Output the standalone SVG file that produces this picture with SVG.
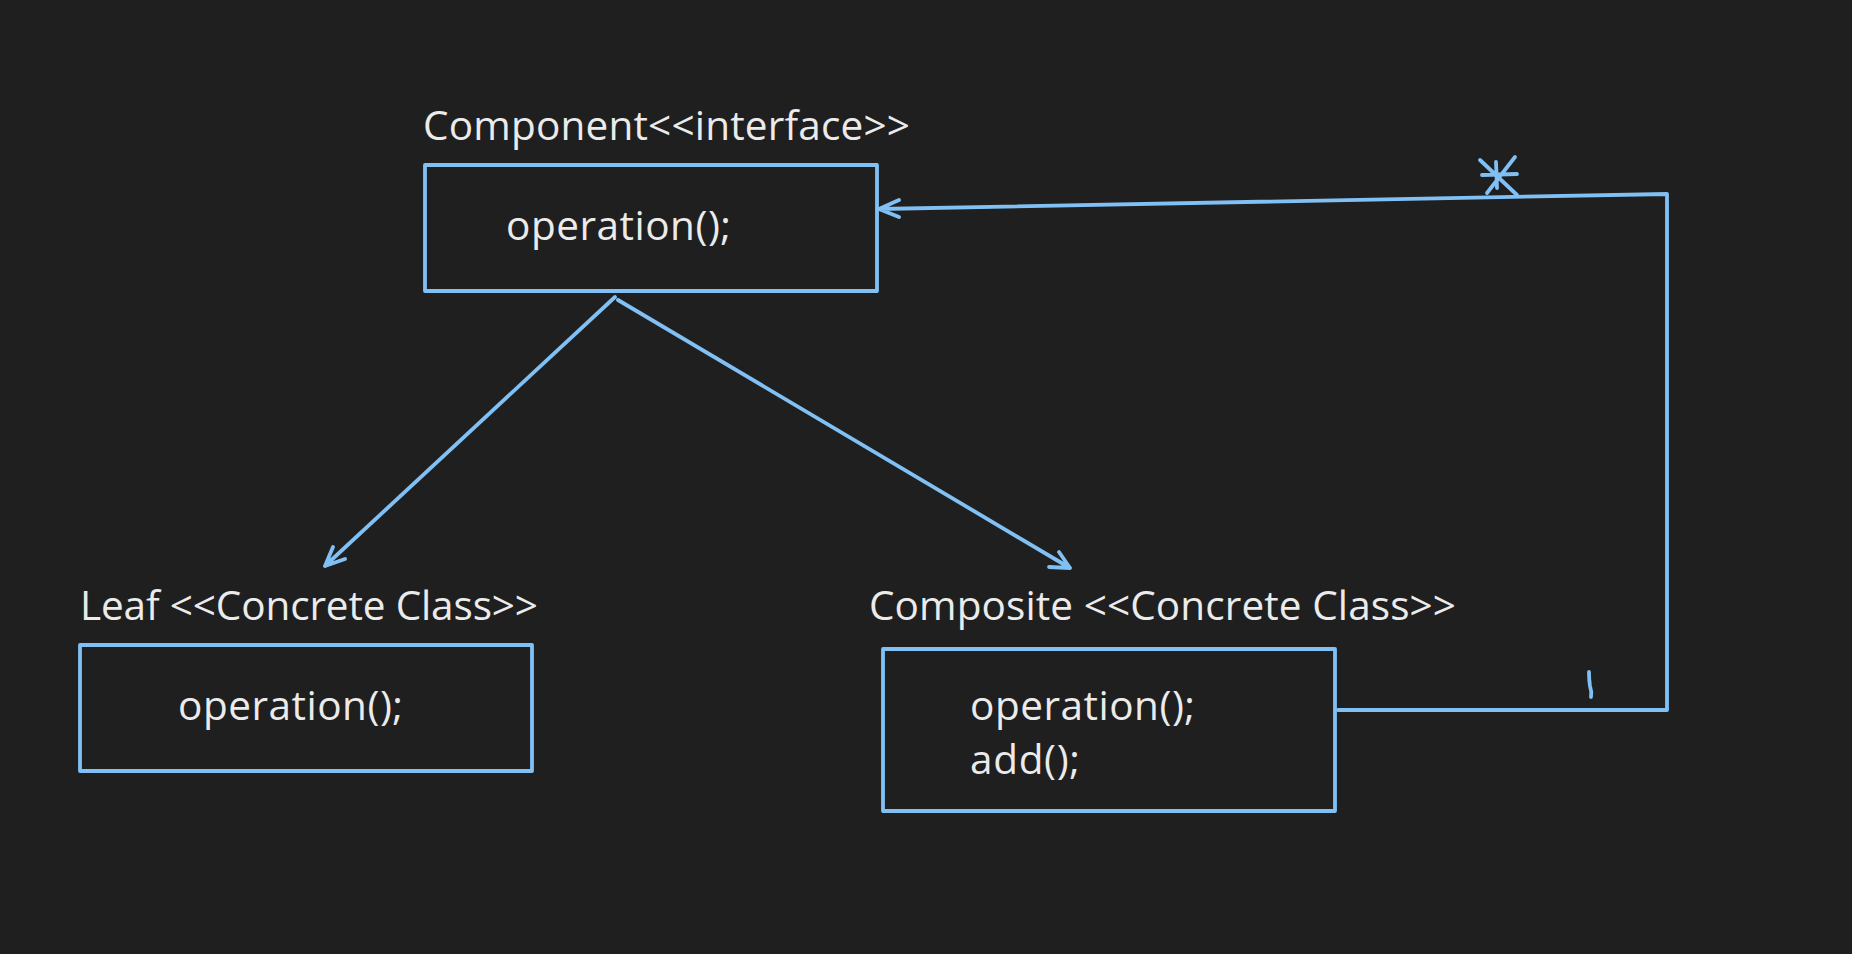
<svg xmlns="http://www.w3.org/2000/svg" width="1852" height="954" viewBox="0 0 1852 954">
<style>
.bg{fill:#1f1f1f}
.box{fill:none;stroke:#80c0f4;stroke-width:3.8;stroke-linejoin:round}
.ln{fill:none;stroke:#80c0f4;stroke-width:3.8;stroke-linecap:round;stroke-linejoin:round}
.t{font-family:"Open Sans","Noto Sans","Liberation Sans",sans-serif;font-size:40.5px;fill:#ebebeb}
</style>
<rect class="bg" x="0" y="0" width="1852" height="954"/>
<g id="component">
<text class="t" x="423" y="140" textLength="487" lengthAdjust="spacing">Component&lt;&lt;interface&gt;&gt;</text>
<rect class="box" x="425" y="165" width="452" height="126"/>
<text class="t" x="506" y="240" textLength="225" lengthAdjust="spacing">operation();</text>
</g>
<g id="leaf">
<text class="t" x="80" y="620" textLength="458" lengthAdjust="spacing">Leaf &lt;&lt;Concrete Class&gt;&gt;</text>
<rect class="box" x="80" y="645" width="452" height="126"/>
<text class="t" x="178" y="720" textLength="225" lengthAdjust="spacing">operation();</text>
</g>
<g id="composite">
<text class="t" x="869" y="620" textLength="587" lengthAdjust="spacing">Composite &lt;&lt;Concrete Class&gt;&gt;</text>
<rect class="box" x="883" y="649" width="452" height="162"/>
<text class="t" x="970" y="720" textLength="225" lengthAdjust="spacing">operation();</text>
<text class="t" x="970" y="774" textLength="110" lengthAdjust="spacing">add();</text>
</g>
<g id="connectors">
<path class="ln" d="M615 297 L325 566 M333 547 L325 566 L345 559"/>
<path class="ln" d="M618 300 L1070 568 M1059 552 L1070 568 L1049 567"/>
<path class="ln" d="M1338 710 L1667 710 L1667 194 L879 209 M899 200 L879 209 L899 217"/>
<path class="ln" d="M1480 160 L1517 195 M1515 157 L1487 193 M1482 175 L1517 174 M1496 162 L1497 188"/>
<path class="ln" d="M1589 672 Q1589 680 1590 686 Q1592 692 1591 697"/>
</g>
</svg>
